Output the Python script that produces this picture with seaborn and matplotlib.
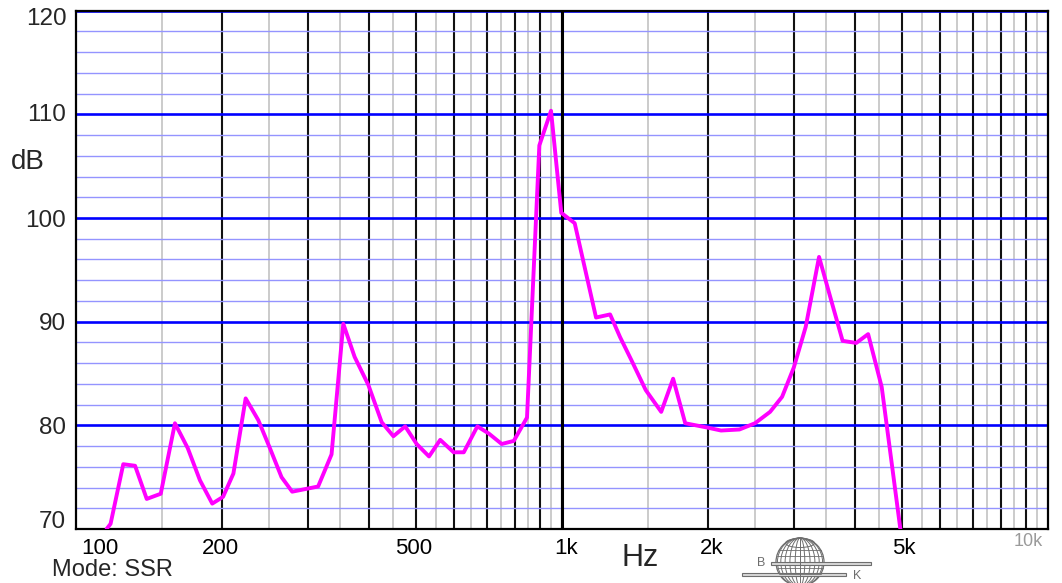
import numpy as np
import pandas as pd
import matplotlib
matplotlib.use("Agg")
import matplotlib.pyplot as plt
import matplotlib.patches as mpatches
import matplotlib.transforms as mtransforms
import seaborn as sns

# ---- data ----
freq_hz = [115.6, 117.8, 125.1, 132.3, 139.8, 149.4, 159.8, 169.8, 179.9, 190.7,
           200.7, 210.8, 223.4, 237.2, 250.6, 264.8, 278.5, 314.9, 335.6, 354.8,
           374.4, 399.5, 425.6, 449.9, 475.7, 502.3, 532.6, 561.6, 598.4, 627.9,
           669.6, 707.4, 751.5, 795.8, 847.2, 898.2, 949.3, 996.6, 1062, 1175,
           1256, 1317, 1389, 1487, 1600, 1693, 1793, 1984, 2124, 2318,
           2495, 2680, 2837, 3000, 3173, 3380, 3573, 3779, 4032, 4265,
           4548, 4968]
level_db = [70.0, 70.5, 76.25, 76.1, 72.9, 73.4, 80.2, 77.8, 74.7, 72.45,
            73.1, 75.35, 82.6, 80.5, 77.8, 75.0, 73.6, 74.1, 77.2, 89.8,
            86.6, 83.9, 80.3, 78.95, 79.9, 78.2, 77.0, 78.6, 77.4, 77.4,
            79.9, 79.2, 78.2, 78.5, 80.75, 107.0, 110.35, 100.5, 99.5, 90.4,
            90.7, 88.5, 86.3, 83.4, 81.3, 84.5, 80.2, 79.8, 79.5, 79.6,
            80.2, 81.3, 82.75, 85.6, 89.5, 96.25, 92.2, 88.15, 87.95, 88.8,
            83.7, 70.0]

x_major_grid = [200, 300, 400, 500, 600, 700, 800, 900,
                1000, 2000, 3000, 4000, 5000, 6000, 7000, 8000, 9000]
x_minor_grid = [150, 250, 350, 450, 550, 650, 750, 850, 950,
                1500, 2500, 3500, 4500, 5500, 6500, 7500, 8500, 9500]
x_label_pos = [100, 200, 500, 1000, 2000, 5000, 10000]
x_label_txt = ["100", "200", "500", "1k", "2k", "5k", "10k"]
y_major = [70, 80, 90, 100, 110, 120]
y_minor = [72, 74, 76, 78, 82, 84, 86, 88, 92, 94, 96, 98,
           102, 104, 106, 108, 112, 114, 116, 118]

df = pd.DataFrame({"Hz": freq_hz, "dB": level_db})

# ---- figure ----
sns.set_style("white")
plt.rcParams["font.family"] = ["Liberation Sans", "DejaVu Sans"]

W, H = 1062, 583
fig = plt.figure(figsize=(W / 100, H / 100), dpi=100)
L, R, T, B = 76, 1048, 10.7, 529
ax = fig.add_axes([L / W, (H - B) / H, (R - L) / W, (B - T) / H])

ax.set_xscale("log")
ax.set_xlim(100, 10000)
ax.set_ylim(70, 120)

# grid from ticks
ax.set_xticks(x_major_grid)
ax.set_xticks(x_minor_grid, minor=True)
ax.set_yticks(y_major)
ax.set_yticks(y_minor, minor=True)
ax.set_xticklabels([])
ax.set_xticklabels([], minor=True)
ax.tick_params(axis="both", which="both", length=0)
ax.grid(which="major", axis="x", color="#111111", lw=1.5)
ax.grid(which="minor", axis="x", color="#bdbdbd", lw=1.1)
ax.grid(which="major", axis="y", color="#0000ff", lw=1.9)
ax.grid(which="minor", axis="y", color="#9494ff", lw=1.0)
ax.axvline(1000, color="#000000", lw=2.2, zorder=0.6)
ax.set_axisbelow(True)

sns.lineplot(data=df, x="Hz", y="dB", ax=ax, color="#ff00ff", lw=2.8,
             sort=False, estimator=None, zorder=5)
ax.set_xlabel("")
ax.set_ylabel("")

for s in ax.spines.values():
    s.set_color("black")
    s.set_linewidth(1.6)
    s.set_visible(True)

# y tick labels
ax.set_yticklabels([str(v) for v in y_major], fontsize=17.5)
ax.tick_params(axis="y", pad=7)
y_offsets = {70: 10, 120: -6, 110: 2}
for v, lab in zip(y_major, ax.get_yticklabels()):
    dy = y_offsets.get(v, 0)
    if dy:
        lab.set_transform(lab.get_transform() +
                          mtransforms.ScaledTranslation(0, dy / 100, fig.dpi_scale_trans))

# x labels
x_off = {100: 24, 1000: 4, 2000: 3, 5000: 2, 10000: -20}
for f, t in zip(x_label_pos, x_label_txt):
    if t == "10k":
        ax.annotate(t, xy=(f, 0), xycoords=("data", "axes fraction"),
                    xytext=(x_off[f], -4), textcoords="offset pixels",
                    ha="center", va="top", fontsize=13, color="#9a9a9a",
                    fontweight="light")
    else:
        ax.annotate(t, xy=(f, 0), xycoords=("data", "axes fraction"),
                    xytext=(x_off.get(f, -2), -9), textcoords="offset pixels",
                    ha="center", va="top", fontsize=16, color="black")

fig.text(11 / W, 1 - 162 / H, "dB", fontsize=20, ha="left", va="center")
fig.text(640 / W, 1 - 558 / H, "Hz", fontsize=22, ha="center", va="center")
fig.text(52 / W, 1 - 570 / H, "Mode: SSR", fontsize=17, ha="left", va="center")

# ---- B&K globe logo ----
lax = fig.add_axes([730 / W, 0, 150 / W, 53 / H])
lax.set_xlim(730, 880)
lax.set_ylim(583, 530)
lax.axis("off")
g = "#6e6e6e"
cx, cy, r = 800, 562, 24
lax.add_patch(mpatches.Circle((cx, cy), r, fill=False, ec=g, lw=0.9))
for wfrac in [0.2, 0.42, 0.62, 0.8, 0.94]:
    lax.add_patch(mpatches.Ellipse((cx, cy), 2 * r * wfrac, 2 * r, fill=False, ec=g, lw=0.7))
lax.plot([cx, cx], [cy - r, cy + r], color=g, lw=0.7)
lax.add_patch(mpatches.Ellipse((cx, cy - r + 5), 2 * r * 0.6, 9, fill=False, ec=g, lw=0.7))
for dy in [-12, -6, 0, 6, 12]:
    hw = np.sqrt(max(r * r - dy * dy, 0))
    lax.plot([cx - hw, cx + hw], [cy + dy, cy + dy], color=g, lw=0.6)
lax.add_patch(mpatches.Rectangle((771, 561.5), 100, 3.2, fc="#d8d8d8", ec=g, lw=0.8))
lax.add_patch(mpatches.Rectangle((742, 573), 104, 3.2, fc="#d8d8d8", ec=g, lw=0.8))
lax.text(761, 563, "B", fontsize=9, color=g, ha="center", va="center")
lax.text(857, 576, "K", fontsize=9, color=g, ha="center", va="center")

fig.savefig("out.png", dpi=100)
